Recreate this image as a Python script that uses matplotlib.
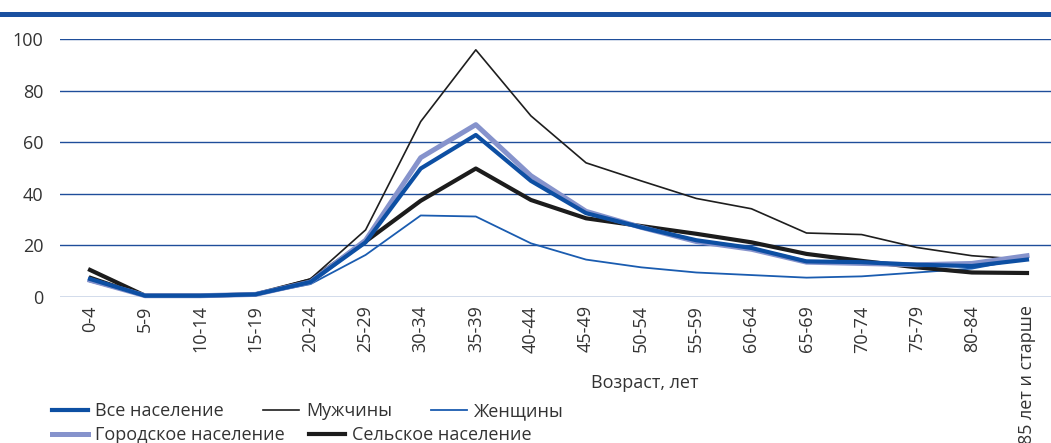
import numpy as np
import matplotlib
matplotlib.use('Agg')
import matplotlib.pyplot as plt
from matplotlib.lines import Line2D
from matplotlib.patches import Rectangle

# age groups and rates
ageGroups = ['0-4', '5-9', '10-14', '15-19', '20-24', '25-29', '30-34', '35-39',
             '40-44', '45-49', '50-54', '55-59', '60-64', '65-69', '70-74',
             '75-79', '80-84', '85 лет и старше']
allPop   = [7.0, 0.5, 0.5, 1.0, 5.8, 21.2, 49.8, 62.8, 45.0, 32.5, 27.0, 22.0,
            19.0, 13.8, 13.5, 12.5, 12.0, 14.5]
men      = [8.0, 0.7, 0.7, 1.2, 7.0, 26.0, 68.0, 95.8, 70.2, 52.0, 45.0, 38.2,
            34.2, 24.8, 24.2, 19.2, 16.0, 14.5]
women    = [6.0, 0.3, 0.3, 0.8, 5.0, 16.3, 31.6, 31.2, 20.8, 14.5, 11.5, 9.5,
            8.5, 7.5, 8.0, 9.5, 11.0, 15.0]
urban    = [6.5, 0.5, 0.5, 1.0, 5.8, 22.0, 54.0, 66.8, 47.0, 33.2, 27.0, 21.5,
            18.5, 13.5, 13.0, 12.5, 13.0, 16.0]
rural    = [10.5, 0.5, 0.5, 1.0, 6.5, 21.5, 37.3, 49.8, 37.6, 30.5, 27.5, 24.5,
            21.2, 16.7, 14.0, 11.5, 9.5, 9.3]
yTicks = [0, 20, 40, 60, 80, 100]

plt.rcParams['font.family'] = ['Open Sans', 'DejaVu Sans']
plt.rcParams['font.size'] = 13
textColor = '#333333'
gridColor = '#1f4e9a'

fig = plt.figure(figsize=(10.51, 4.43), dpi=100)
ax = fig.add_axes([60/1051, 146/443, 991/1051, 258/443])

x = np.arange(len(ageGroups))
#---------------------------------------------------------------------#
# draw order: thin lines under the thick ones                          #
#---------------------------------------------------------------------#
ax.plot(x, men, color='#1e1e1e', linewidth=1.2, label='Мужчины', clip_on=False, zorder=3)
ax.plot(x, women, color='#1a5cb0', linewidth=1.3, label='Женщины', clip_on=False, zorder=3)
ax.plot(x, rural, color='#1c1c1c', linewidth=3.0, label='Сельское население', clip_on=False, zorder=4)
ax.plot(x, urban, color='#8693cc', linewidth=3.6, label='Городское население', clip_on=False, zorder=5)
ax.plot(x, allPop, color='#0d4fa3', linewidth=3.0, label='Все население', clip_on=False, zorder=6)

ax.set_xlim(-30/55.1, 17 + 24/55.1)
ax.set_ylim(0, 100)
ax.set_yticks(yTicks)
ax.set_xticks(x)
ax.set_xticklabels(ageGroups, rotation=90, va='top', ha='center')
ax.tick_params(axis='both', length=0, colors=textColor)
ax.tick_params(axis='y', pad=12)
ax.tick_params(axis='x', pad=6)
ax.grid(axis='y', color=gridColor, linewidth=1.0)
ax.set_axisbelow(True)
for s in ax.spines.values():
  s.set_visible(False)

fig.text(645/1051, (443-383)/443, 'Возраст, лет', ha='center', va='center', color=textColor, fontsize=13)

# blue band at the top
fig.patches.append(Rectangle((0, (443-17)/443), 1, 5/443, transform=fig.transFigure,
                             facecolor='#1a50a0', edgecolor='none'))

#---------------------------------------------------------------------#
# legend in two rows, not aligned as a grid                            #
#---------------------------------------------------------------------#
def mkHandle(color, lw):
  return Line2D([], [], color=color, linewidth=lw)

row1 = [mkHandle('#0d4fa3', 3.0), mkHandle('#1e1e1e', 1.2), mkHandle('#1a5cb0', 1.3)]
lab1 = ['Все население', 'Мужчины', 'Женщины']
row2 = [mkHandle('#8693cc', 3.6), mkHandle('#1c1c1c', 3.0)]
lab2 = ['Городское население', 'Сельское население']

legKw = dict(frameon=False, handlelength=2.0, handletextpad=0.4, borderpad=0,
             borderaxespad=0, fontsize=13, labelcolor=textColor, loc='center left')
leg1 = fig.legend(row1, lab1, ncol=3, columnspacing=2.15,
                  bbox_to_anchor=(52/1051, (443-411)/443), **legKw)
leg2 = fig.legend(row2, lab2, ncol=2, columnspacing=1.3,
                  bbox_to_anchor=(52/1051, (443-435)/443), **legKw)

plt.savefig('out.png', dpi=100)
